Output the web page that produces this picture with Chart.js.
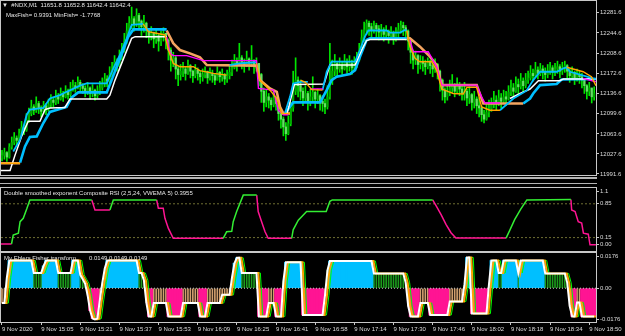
<!DOCTYPE html>
<html>
<head>
<meta charset="utf-8">
<script src="https://cdn.jsdelivr.net/npm/chart.js@4.4.0/dist/chart.umd.min.js"></script>
<style>
html, body { margin: 0; padding: 0; background: #000; overflow: hidden; }
#wrap { position: relative; width: 625px; height: 336px; background: #000; }
canvas { position: absolute; left: 0; }
</style>
</head>
<body>
<div id="wrap">
  <canvas id="price" width="625" height="181" style="top:0px"></canvas>
  <canvas id="rsi" width="625" height="71" style="top:181px"></canvas>
  <canvas id="fisher" width="625" height="84" style="top:252px"></canvas>
</div>
<script>
// ---- axis data ----
const timeIdx = [0, 16, 32, 48, 64, 80, 96, 112, 128, 144, 160, 176, 192, 208, 224, 240]
const timeLabels = ['9 Nov 2020', '9 Nov 15:05', '9 Nov 15:21', '9 Nov 15:37', '9 Nov 15:53', '9 Nov 16:09',
  '9 Nov 16:25', '9 Nov 16:41', '9 Nov 16:58', '9 Nov 17:14', '9 Nov 17:30', '9 Nov 17:46',
  '9 Nov 18:02', '9 Nov 18:18', '9 Nov 18:34', '9 Nov 18:50']
const priceTicks = [12281.6, 12244.6, 12208.6, 12172.6, 12136.6, 12099.6, 12063.6, 12027.6, 11991.6]
const rsiTicks = [1.1, 0.85, 0.15, 0]
const rsiTickLabels = ['1.1', '0.85', '0.15', '0.00']
const rsiLevels = [0.85, 0.15]
const fishTicks = [0.0176, 0, -0.0176]
const fishTickLabels = ['0.0176', '0.00', '-0.0176']

// ---- candles (M1) ----
const close = [
  12025, 12030, 12022,
  12040, 12048, 12056, 12052,
  12064, 12075, 12070, 12088,
  12100, 12112, 12106, 12118,
  12110, 12104, 12114, 12108,
  12116, 12124, 12120, 12130, 12126, 12136, 12130, 12140, 12134,
  12144, 12150, 12146, 12156, 12150, 12145,
  12140, 12146, 12136, 12142, 12132, 12140, 12146,
  12154, 12162, 12158, 12170,
  12180, 12192, 12186, 12200,
  12214, 12230, 12248, 12262,
  12270, 12260, 12276, 12266, 12256, 12262,
  12250, 12240, 12246, 12234, 12240, 12230, 12238, 12244, 12232,
  12214, 12196, 12200, 12180, 12170, 12176,
  12180, 12172, 12186, 12176, 12168, 12178, 12172, 12166,
  12170, 12176, 12164, 12172, 12168, 12160, 12174, 12166, 12170, 12162, 12168, 12174,
  12182, 12194, 12188, 12200, 12192, 12186, 12198, 12190, 12196, 12184, 12190,
  12170, 12140, 12120, 12130,
  12124, 12116, 12128, 12118,
  12100, 12090, 12076, 12064, 12082,
  12110, 12140, 12160, 12150,
  12140, 12128, 12136, 12120, 12130, 12138, 12126, 12132, 12122,
  12118, 12112, 12130, 12160, 12176, 12190, 12180,
  12186, 12180, 12192, 12184, 12190, 12182, 12188, 12196,
  12214, 12236, 12250, 12262, 12256, 12250, 12258, 12252,
  12246, 12250, 12242, 12248, 12240, 12246, 12236, 12244,
  12250, 12258, 12254, 12248,
  12230, 12210, 12196, 12204, 12188, 12194,
  12190, 12184, 12194, 12186, 12180, 12188, 12176,
  12160, 12142, 12130, 12138,
  12146, 12152, 12140, 12150, 12144, 12136,
  12140, 12128, 12134, 12120, 12126, 12114,
  12110, 12098, 12090, 12102, 12108,
  12116, 12124, 12118, 12128, 12122, 12130, 12126,
  12138, 12146, 12140, 12152, 12148, 12158, 12150, 12160,
  12164, 12172, 12168, 12178, 12172, 12180, 12174, 12170,
  12176, 12182, 12174, 12180, 12184, 12176, 12182, 12186,
  12176, 12168, 12174, 12164, 12170, 12166, 12160,
  12150, 12140, 12146, 12130, 12136
]
const high = [
  12034, 12038, 12032,
  12046, 12058, 12066, 12060,
  12072, 12086, 12080, 12100,
  12110, 12124, 12116, 12130,
  12122, 12114, 12122, 12118,
  12126, 12134, 12130, 12142, 12136, 12146, 12140, 12150, 12144,
  12156, 12160, 12156, 12166, 12160, 12154,
  12150, 12156, 12148, 12152, 12144, 12150, 12158,
  12164, 12172, 12168, 12184,
  12192, 12204, 12198, 12214,
  12226, 12244, 12262, 12274,
  12291, 12274, 12288, 12280, 12268, 12276,
  12264, 12252, 12256, 12246, 12250, 12242, 12248, 12254, 12244,
  12234, 12218, 12210, 12204, 12184, 12188,
  12192, 12184, 12196, 12188, 12178, 12188, 12182, 12176,
  12180, 12184, 12176, 12182, 12178, 12172, 12184, 12176, 12180, 12172, 12178, 12188,
  12196, 12206, 12200, 12226, 12204, 12198, 12212, 12200, 12222, 12196, 12200,
  12190, 12172, 12146, 12142,
  12136, 12128, 12140, 12130,
  12118, 12104, 12094, 12084, 12096,
  12120, 12176, 12200, 12166,
  12160, 12146, 12150, 12140, 12144, 12166, 12140, 12144, 12134,
  12132, 12126, 12150, 12226, 12196, 12206, 12194,
  12200, 12194, 12206, 12198, 12204, 12196, 12202, 12210,
  12226, 12250, 12264, 12268, 12266, 12262, 12266, 12262,
  12258, 12260, 12254, 12258, 12250, 12256, 12248, 12254,
  12262, 12266, 12264, 12258,
  12250, 12234, 12214, 12212, 12206, 12204,
  12202, 12196, 12200, 12196, 12190, 12198, 12190,
  12178, 12162, 12146, 12150,
  12160, 12170, 12154, 12164, 12156, 12150,
  12156, 12144, 12148, 12136, 12140, 12130,
  12128, 12114, 12106, 12116, 12124,
  12128, 12140, 12132, 12142, 12136, 12142, 12140,
  12150, 12160, 12154, 12166, 12162, 12172, 12164, 12172,
  12176, 12186, 12180, 12192, 12184, 12190, 12186, 12182,
  12188, 12192, 12186, 12190, 12194, 12188, 12192, 12194,
  12188, 12180, 12184, 12176, 12180, 12176, 12172,
  12162, 12152, 12156, 12144, 12148
]
const low = [
  12015, 12018, 12014,
  12020, 12036, 12044, 12042,
  12050, 12060, 12062, 12068,
  12084, 12096, 12098, 12102,
  12100, 12094, 12100, 12098,
  12104, 12110, 12112, 12116, 12118, 12124, 12122, 12128, 12126,
  12130, 12140, 12138, 12144, 12140, 12136,
  12130, 12134, 12126, 12130, 12124, 12128, 12134,
  12142, 12148, 12148, 12154,
  12166, 12176, 12176, 12184,
  12196, 12210, 12226, 12242,
  12252, 12248, 12256, 12250, 12240, 12246,
  12236, 12226, 12232, 12218, 12226, 12212, 12222, 12230, 12216,
  12196, 12176, 12184, 12162, 12150, 12160,
  12166, 12160, 12170, 12164, 12156, 12164, 12160, 12154,
  12158, 12164, 12154, 12160, 12156, 12152, 12160, 12156, 12158, 12152, 12156, 12162,
  12168, 12180, 12176, 12186, 12180, 12174, 12184, 12178, 12184, 12172, 12176,
  12150, 12120, 12104, 12112,
  12110, 12106, 12112, 12106,
  12088, 12074, 12060, 12052, 12062,
  12078, 12104, 12134, 12130,
  12124, 12114, 12120, 12106, 12114, 12122, 12110, 12118, 12106,
  12104, 12100, 12108, 12126, 12152, 12168, 12166,
  12174, 12170, 12178, 12172, 12176, 12170, 12176, 12182,
  12194, 12212, 12230, 12242, 12240, 12236, 12244, 12236,
  12232, 12238, 12230, 12234, 12226, 12234, 12224, 12230,
  12236, 12244, 12240, 12232,
  12214, 12190, 12180, 12188, 12172, 12180,
  12176, 12170, 12180, 12172, 12166, 12174, 12162,
  12140, 12124, 12119, 12124,
  12132, 12138, 12130, 12136, 12132, 12124,
  12124, 12114, 12118, 12106, 12110, 12100,
  12094, 12086, 12083, 12088, 12094,
  12104, 12110, 12106, 12114, 12110, 12118, 12114,
  12124, 12132, 12130, 12138, 12136, 12144, 12138, 12146,
  12154, 12160, 12158, 12166, 12162, 12168, 12162, 12158,
  12164, 12170, 12162, 12168, 12172, 12164, 12170, 12174,
  12164, 12156, 12162, 12152, 12158, 12154, 12146,
  12136, 12126, 12132, 12119, 12124
]
// each bar opens at the previous close
const open = [12020].concat(close.slice(0, -1))

// ---- trend lines on price: [bar, price], null = break ----
const fastUp = [
  [4.6, 12032], [7.4, 12053], [10.1, 12098], [11.4, 12107], [16.9, 12110], [19.6, 12127], [23.7, 12133],
  [26.4, 12139], [31.9, 12150], [34.6, 12154], [42.8, 12154], [45.5, 12181], [48.2, 12205], [51, 12235],
  [53, 12259], [57.7, 12261], null,
  [93, 12187], [97, 12190], [104, 12192], null,
  [115.6, 12100], [117.7, 12130], [119, 12154], [122, 12157], [125, 12157], null,
  [131, 12142], [132.7, 12175], [134.7, 12193], [144.3, 12193], [146.3, 12214], [148.3, 12238], [149.7, 12249],
  [157.2, 12249], [158.6, 12245], [162.6, 12245], [164.7, 12250], [165.5, 12249], null,
  [203.5, 12106], [209, 12127], [214.4, 12141], [217.1, 12160], [219.9, 12175], [226.7, 12175], [229.4, 12181],
  [230.8, 12183], [232.1, 12175], [241.6, 12163], [242.7, 12162]
]
const whiteUp = [
  [-0.4, 11998], [3.3, 11998], [5.3, 12025], [8, 12059], [10.7, 12086], [15.5, 12086], [17.6, 12107], [19.6, 12110],
  [25.7, 12111], [27.8, 12126], [42.8, 12126], [44.1, 12133], [46.2, 12160], [48.9, 12190], [53, 12235],
  [54.4, 12238], [67.3, 12238], null,
  [116.5, 12100], [119.5, 12152], [131.6, 12153], [134, 12187], [144.3, 12187], [147, 12214], [149, 12231],
  [150.4, 12233], [165.4, 12233], null,
  [207.6, 12127], [211.7, 12136], [215.8, 12144], [219.2, 12159], [227.9, 12159], [229.4, 12162], [242.7, 12162]
]
const slowUp = [
  [7.4, 12012], [9.4, 12041], [11.4, 12058], [14.2, 12059], [16.9, 12083], [19.6, 12103], [26.4, 12112],
  [28.5, 12129], [31.2, 12138], [42.8, 12138], [44.8, 12160], [46.9, 12184], [49.6, 12214], [51.6, 12238],
  [53.7, 12251], [67.3, 12251], null,
  [115.6, 12100], [119, 12120], [130, 12120], [132.7, 12142], [134.7, 12160], [136.8, 12166], [142.2, 12171],
  [144.3, 12178], [146.3, 12202], [149, 12232], [150.4, 12235], [165.4, 12235], null,
  [213, 12118], [215.8, 12127], [217.1, 12136], [219.9, 12151], [226.7, 12153], [228.7, 12161], [242.7, 12162]
]
const fastDown = [
  [-0.4, 12011], [7.4, 12011], null,
  [57.7, 12261], [59.8, 12247], [66.6, 12241], [68, 12214], [70, 12190], [72.7, 12184], [78.2, 12184],
  [80.9, 12177], [86.4, 12172], [91.8, 12169], null,
  [104, 12190], [105.4, 12160], [109.5, 12142], [112.3, 12127], [114.3, 12100], [117.7, 12100], null,
  [122, 12160], [124, 12156], [126.6, 12143], [131, 12142], null,
  [165.4, 12249], [166.7, 12220], [168.8, 12199], [170.8, 12193], [175.6, 12193], [177.6, 12178], [179.7, 12144],
  [184.4, 12136], [188.5, 12135], [190, 12147], [194, 12147], [196, 12112], [199.4, 12106], [203.5, 12106], null,
  [230.8, 12183], [237.5, 12175], [240.9, 12166], [242.7, 12150]
]
const midDown = [
  [67.3, 12237], [68.7, 12208], [70, 12204], [75.5, 12204], [82.3, 12195], [104, 12195], [104.8, 12145],
  [110.9, 12142], [112.9, 12106], [115, 12098], [117, 12098], null,
  [125.9, 12144], [131.2, 12144], null,
  [166.7, 12232], [168.1, 12211], [174.2, 12211], [177.6, 12184], [179.7, 12151], [194, 12151], [196, 12130],
  [197.4, 12119], [203.5, 12119], null,
  [237.5, 12163], [242.7, 12157]
]
const slowDown = [
  [-0.4, 12011], [7.4, 12011], null,
  [67.3, 12249], [70, 12226], [72.7, 12214], [76.8, 12208], [80.9, 12201], [83.7, 12187], [104, 12186],
  [105.4, 12160], [109.5, 12145], [112.3, 12139], [113.6, 12112], [115, 12100], [117.7, 12100], null,
  [165.4, 12235], [166.7, 12235], [170.8, 12220], [174.9, 12202], [177.6, 12187], [179.7, 12151], [194, 12151],
  [196.7, 12118], [213, 12118]
]

// ---- composite RSI: [bar, value] ----
const rsiUp = [
  [3.9, 0.017], [4.6, 0.20], [6.7, 0.24], [7.4, 0.48], [8.7, 0.55], [10.1, 0.74], [11.4, 0.93], [36.7, 0.93], null,
  [44.1, 0.72], [45.5, 0.93], [63.2, 0.93], null,
  [90.4, 0.135], [91.8, 0.27], [93.9, 0.28], [94.5, 0.48], [95.9, 0.69], [98.6, 1.03], [104.1, 1.03], null,
  [118.4, 0.135], [119, 0.31], [121.1, 0.51], [124.5, 0.69], [132.5, 0.69], [134, 0.90], [135, 0.93], [176, 0.93], null,
  [206, 0.14], [207.5, 0.30], [209.5, 0.52], [212, 0.74], [214.5, 0.93], [232.5, 0.94]
]
const rsiDown = [
  [-0.4, 0.017], [3.9, 0.017], null,
  [36.7, 0.93], [38, 0.72], [44.1, 0.72], null,
  [63.2, 0.93], [63.9, 0.76], [65.9, 0.76], [66.6, 0.55], [68, 0.34], [70, 0.135], [90.4, 0.135], null,
  [104.1, 1.03], [104.7, 0.69], [106.1, 0.48], [107.5, 0.27], [108.8, 0.135], [118.4, 0.135], null,
  [176, 0.93], [177.5, 0.80], [179.5, 0.62], [181.5, 0.42], [183.5, 0.25], [185.5, 0.14], [206, 0.14], null,
  [232.5, 0.94], [232.8, 0.72], [234.2, 0.69], [235.5, 0.48], [236.9, 0.45], [237.6, 0.24], [239.6, 0.22],
  [240.3, 0.0], [242.7, 0.0]
]

// ---- Ehlers Fisher, one value per bar ----
const fish = [
  -0.0083, -0.0083, 0.006,
  0.0155, 0.0155, 0.0155, 0.0155, 0.0155, 0.0155, 0.0155, 0.0155, 0.0155, 0.0155,
  0.0085, 0.0085, 0.0085, 0.0085,
  0.0125,
  0.0155, 0.0155, 0.0155, 0.0155, 0.0155,
  0.0085, 0.0085, 0.0085, 0.0085, 0.0085, 0.0085,
  0.0155, 0.0155, 0.0155,
  0.0075, 0.005, 0.0025,
  -0.004, -0.0125, -0.017, -0.0175, -0.017,
  -0.0065, 0.003, 0.011,
  0.0155, 0.0155, 0.0155, 0.0155, 0.0155, 0.0155, 0.0155, 0.0155, 0.0155, 0.0155, 0.0155, 0.0155, 0.0155,
  0.0085, 0.0085, 0.0045,
  -0.008, -0.0158, -0.0158,
  -0.0083, -0.0083, -0.0083, -0.0083, -0.0083, -0.0083,
  -0.0158, -0.0158, -0.0158, -0.0158, -0.0158, -0.0158,
  -0.0083, -0.0083, -0.0083, -0.0083, -0.0083, -0.0083, -0.0083,
  -0.0158, -0.0158, -0.0158,
  -0.0083, -0.0083, -0.0083, -0.0083, -0.0083, -0.0083,
  -0.0037, -0.0037, -0.0037, -0.0037,
  0.006, 0.014, 0.017, 0.017,
  0.0085, 0.0085, 0.0085, 0.0085, 0.0085, 0.0085, 0.0085,
  -0.0158, -0.0158, -0.0158, -0.0158,
  -0.0083, -0.0083, -0.0083,
  -0.0158, -0.0158, -0.0158,
  0.004,
  0.0145, 0.0145, 0.0145, 0.0145, 0.0145, 0.0145, 0.0145,
  -0.015, -0.015, -0.015, -0.015, -0.015, -0.015, -0.015, -0.015, -0.015,
  -0.004, 0.01,
  0.0152, 0.0152, 0.0152, 0.0152, 0.0152, 0.0152, 0.0152, 0.0152, 0.0152,
  0.0152, 0.0152, 0.0152, 0.0152, 0.0152, 0.0152, 0.0152, 0.0152, 0.0152,
  0.0082, 0.0082, 0.0082, 0.0082, 0.0082, 0.0082, 0.0082, 0.0082, 0.0082, 0.0082, 0.0082, 0.0082, 0.0082,
  0.003, -0.01,
  -0.0158, -0.0158, -0.0158, -0.0158,
  -0.0083, -0.0083, -0.0083, -0.0083,
  -0.015, -0.015, -0.015, -0.015, -0.015, -0.015, -0.015, -0.015,
  -0.0074, -0.0074, -0.0074, -0.0074, -0.0074, -0.0074,
  0.002, 0.0172, 0.0172,
  -0.0142, -0.0142, -0.0142, -0.0142, -0.0142, -0.0142, -0.0142,
  0.002,
  0.0155, 0.0155, 0.0155,
  0.0085, 0.0085,
  0.0155, 0.0155, 0.0155, 0.0155, 0.0155, 0.0155,
  0.0085,
  0.0155, 0.0155, 0.0155, 0.0155, 0.0155, 0.0155, 0.0155, 0.0155, 0.0155, 0.0155,
  0.0082, 0.0082, 0.0082, 0.0082, 0.0082, 0.0082, 0.0082, 0.0082, 0.0082,
  0.003, -0.01,
  -0.0158, -0.0158,
  -0.008, -0.008,
  -0.0158, -0.0158, -0.0158, -0.0158, -0.0158, -0.0158
]
const strongLevel = 0.012

/* ===============================
   HELPERS
================================ */
const FONT = { family: 'Liberation Sans', size: 6 }
const FRAME = '#c8c8c8'

function pts(list) {
  let lastX = 0
  return list.map(p => {
    if (p) { lastX = p[0]; return { x: p[0], y: p[1] } }
    return { x: lastX, y: null }
  })
}

function lineSet(data, color, width, order, extra) {
  return Object.assign({
    type: 'line', data, borderColor: color, borderWidth: width, pointRadius: 0,
    tension: 0, spanGaps: false, order
  }, extra || {})
}

function xScale(show) {
  return {
    type: 'linear', min: -0.4, max: 242.75, display: show, offset: false,
    grid: { display: show, offset: false, drawOnChartArea: false, tickLength: 3, color: FRAME },
    border: { display: false },
    ticks: {
      align: 'start', autoSkip: false, maxRotation: 0, minRotation: 0, padding: 1,
      color: '#dcdcdc', font: FONT,
      callback: (v, i) => timeLabels[i]
    },
    afterBuildTicks: s => { s.ticks = timeIdx.map(v => ({ value: v })) },
    afterFit: s => { s.paddingLeft = 0; s.paddingRight = 0; if (show) s.height = 14 }
  }
}

function yScale(min, max, vals, labels) {
  return {
    position: 'right', min, max,
    grid: { drawOnChartArea: false, tickLength: 3, color: FRAME },
    border: { display: true, color: FRAME },
    ticks: { autoSkip: false, padding: 1, color: '#dcdcdc', font: FONT, callback: (v, i) => labels[i] },
    afterBuildTicks: s => { s.ticks = vals.map(v => ({ value: v })) },
    afterFit: s => { s.width = 29; s.paddingTop = 0; s.paddingBottom = 0 }
  }
}

// black background, frame, separator bars, panel captions
const panelPlugin = {
  id: 'panel',
  beforeDraw(chart) {
    const ctx = chart.ctx
    ctx.save()
    ctx.fillStyle = '#000'
    ctx.fillRect(0, 0, chart.width, chart.height)
    ctx.restore()
  },
  beforeDatasetsDraw(chart, args, opts) {
    const ctx = chart.ctx
    ctx.save()
    ctx.font = '6px "Liberation Sans", "DejaVu Sans"'
    ctx.textBaseline = 'middle'
    ;(opts.texts || []).forEach(t => {
      ctx.fillStyle = t.color || '#e6e6e6'
      ctx.fillText(t.text, t.x, t.y)
    })
    ctx.restore()
  },
  afterDraw(chart, args, opts) {
    const { ctx, chartArea: a } = chart
    ctx.save()
    ctx.strokeStyle = FRAME
    ctx.lineWidth = 1
    ctx.strokeRect(a.left - 0.5, a.top - 0.5, a.right - a.left + 1, a.bottom - a.top + 1)
    ctx.fillStyle = '#b4b4b4'
    ;(opts.bars || []).forEach(b => ctx.fillRect(0, b[0], a.right + 1, b[1]))
    ctx.restore()
  }
}

const base = {
  responsive: false, animation: false, devicePixelRatio: 1, events: [],
  plugins: { legend: { display: false }, tooltip: { enabled: false } }
}

/* ===============================
   PRICE PANEL
================================ */
const bullBody = '#00a800'
const bearBody = '#66e066'

new Chart(document.getElementById('price'), {
  type: 'bar',
  data: {
    datasets: [
      { type: 'bar', data: close.map((c, i) => ({ x: i, y: [low[i], high[i]] })),
        backgroundColor: '#00e600', barThickness: 1, grouped: false, order: 20 },
      { type: 'bar', data: close.map((c, i) => ({ x: i, y: [open[i], c] })),
        backgroundColor: close.map((c, i) => c >= open[i] ? bullBody : bearBody),
        barThickness: 1.6, grouped: false, order: 19 },
      lineSet(pts(slowDown), '#f4a460', 2.6, 8),
      lineSet(pts(slowUp), '#00bfff', 2.6, 7),
      lineSet(pts(whiteUp), '#ffffff', 1.5, 6),
      lineSet(pts(fastUp), '#00bfff', 1.8, 5),
      lineSet(pts(midDown), '#ff00ff', 1.4, 4),
      lineSet(pts(fastDown), '#ffa500', 1.4, 3)
    ]
  },
  options: Object.assign({}, base, {
    layout: { padding: { left: 1, top: 1, bottom: 6, right: 0 } },
    scales: { x: xScale(false), y: yScale(11989.8, 12301.9, priceTicks, priceTicks.map(v => v.toFixed(1))) },
    plugins: Object.assign({}, base.plugins, {
      panel: {
        texts: [
          { text: '\u25BC  #NDX,M1  11651.8 11652.8 11642.4 11642.4', x: 2, y: 5 },
          { text: 'MaxFish= 0.9391 MinFish= -1.7768', x: 6, y: 15 }
        ],
        bars: [[177, 2]]
      }
    })
  }),
  plugins: [panelPlugin]
})

/* ===============================
   RSI PANEL
================================ */
new Chart(document.getElementById('rsi'), {
  type: 'line',
  data: {
    datasets: [
      ...rsiLevels.map(v => lineSet([{ x: -0.4, y: v }, { x: 242.75, y: v }], '#6e6e32', 1, 10, { borderDash: [2, 2] })),
      lineSet(pts(rsiDown), '#ff1493', 1.5, 2),
      lineSet(pts(rsiUp), '#33ee33', 1.5, 1)
    ]
  },
  options: Object.assign({}, base, {
    layout: { padding: { left: 1, top: 7, bottom: 1, right: 0 } },
    scales: { x: xScale(false), y: yScale(-0.128, 1.177, rsiTicks, rsiTickLabels) },
    plugins: Object.assign({}, base.plugins, {
      panel: {
        texts: [{ text: 'Double smoothed exponent Composite RSI (2,5,24, VWEMA 5) 0.3955', x: 4, y: 12 }],
        bars: [[2, 1]]
      }
    })
  }),
  plugins: [panelPlugin]
})

/* ===============================
   FISHER PANEL
================================ */
const strongBars = fish.map((v, i) => ({ x: i, y: Math.abs(v) >= strongLevel ? v : null }))
const weakBars = fish.map((v, i) => ({ x: i, y: Math.abs(v) < strongLevel ? v : null }))

new Chart(document.getElementById('fisher'), {
  type: 'bar',
  data: {
    datasets: [
      { type: 'bar', data: weakBars, backgroundColor: fish.map(v => v >= 0 ? '#1c9a1c' : '#d2a06e'),
        barThickness: 1, grouped: false, order: 20 },
      { type: 'bar', data: strongBars, backgroundColor: fish.map(v => v >= 0 ? '#00bfff' : '#ff1493'),
        barThickness: 3, grouped: false, order: 19 },
      lineSet([{ x: -0.4, y: 0 }, { x: 242.75, y: 0 }], '#d0d0d0', 1, 18, { borderDash: [1, 2] }),
      // trigger lines run one and two bars behind the fisher value
      lineSet(fish.map((v, i) => ({ x: i + 1.6, y: v })), '#00ff00', 1, 4),
      lineSet(fish.map((v, i) => ({ x: i + 0.8, y: v })), '#ffa500', 2, 3),
      lineSet(fish.map((v, i) => ({ x: i, y: v })), '#ffffff', 2, 1)
    ]
  },
  options: Object.assign({}, base, {
    layout: { padding: { left: 1, top: 1, bottom: 0, right: 0 } },
    scales: { x: xScale(true), y: yScale(-0.0189, 0.0197, fishTicks, fishTickLabels) },
    plugins: Object.assign({}, base.plugins, {
      panel: {
        texts: [
          { text: 'My Ehlers Fisher transform', x: 4, y: 6 },
          { text: '0.0149 0.0149 0.0149', x: 89, y: 6 }
        ]
      }
    })
  }),
  plugins: [panelPlugin]
})
</script>
</body>
</html>
